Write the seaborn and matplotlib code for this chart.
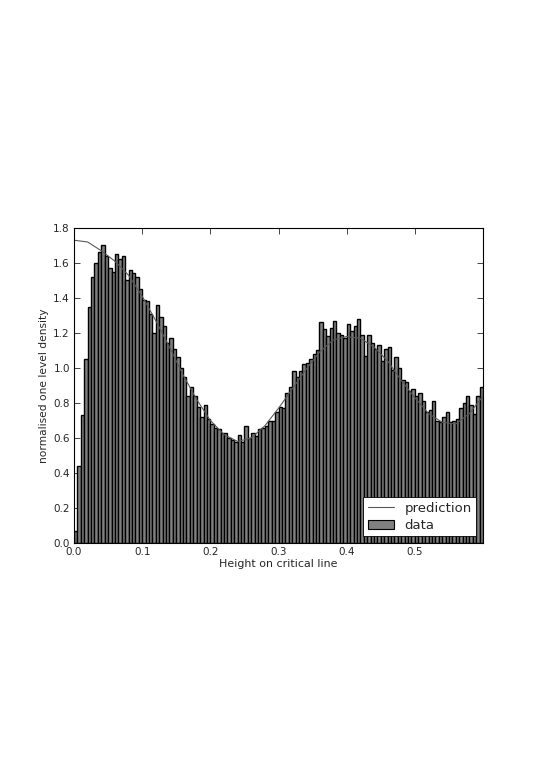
import numpy as np
import pandas as pd
import matplotlib
matplotlib.use("Agg")
import matplotlib.pyplot as plt
import seaborn as sns

# histogram of normalised zero spacings, bin width 0.005 from 0 to 0.6
bin_width = 0.005
data_heights = [
    0.07, 0.44, 0.73, 1.05, 1.35, 1.52, 1.60, 1.66, 1.70, 1.64,
    1.57, 1.55, 1.65, 1.62, 1.64, 1.50, 1.56, 1.54, 1.52, 1.45,
    1.39, 1.38, 1.31, 1.20, 1.36, 1.29, 1.24, 1.14, 1.17, 1.11,
    1.06, 1.00, 0.95, 0.84, 0.89, 0.84, 0.78, 0.72, 0.79, 0.71,
    0.68, 0.66, 0.65, 0.63, 0.63, 0.60, 0.59, 0.58, 0.62, 0.58,
    0.67, 0.60, 0.63, 0.61, 0.65, 0.66, 0.67, 0.70, 0.70, 0.75,
    0.78, 0.77, 0.86, 0.89, 0.98, 0.95, 0.98, 1.02, 1.03, 1.05,
    1.08, 1.10, 1.26, 1.22, 1.18, 1.23, 1.27, 1.20, 1.19, 1.17,
    1.25, 1.21, 1.24, 1.28, 1.19, 1.07, 1.19, 1.14, 1.11, 1.13,
    1.04, 1.11, 1.12, 0.99, 1.06, 1.00, 0.93, 0.92, 0.87, 0.88,
    0.84, 0.86, 0.81, 0.75, 0.76, 0.81, 0.70, 0.69, 0.72, 0.75,
    0.69, 0.70, 0.71, 0.77, 0.80, 0.84, 0.79, 0.74, 0.84, 0.89,
]

# theoretical curve
pred_x = [0.00, 0.02, 0.04, 0.06, 0.08, 0.10, 0.12, 0.14, 0.16, 0.18,
          0.20, 0.22, 0.24, 0.26, 0.28, 0.30, 0.32, 0.34, 0.36, 0.38,
          0.40, 0.42, 0.44, 0.46, 0.48, 0.50, 0.52, 0.54, 0.56, 0.58, 0.60]
pred_y = [1.73, 1.72, 1.67, 1.61, 1.53, 1.41, 1.27, 1.12, 0.96, 0.82,
          0.70, 0.62, 0.58, 0.60, 0.67, 0.77, 0.88, 0.99, 1.09, 1.16,
          1.18, 1.17, 1.12, 1.04, 0.93, 0.83, 0.74, 0.69, 0.68, 0.74, 0.84]

x_ticks = [0.0, 0.1, 0.2, 0.3, 0.4, 0.5]
y_ticks = [0.0, 0.2, 0.4, 0.6, 0.8, 1.0, 1.2, 1.4, 1.6, 1.8]

sns.set_style("ticks")
plt.rcParams['font.family'] = ['DejaVu Sans']
plt.rcParams['xtick.direction'] = 'in'
plt.rcParams['ytick.direction'] = 'in'

n_bins = len(data_heights)
edges = [round(i * bin_width, 4) for i in range(n_bins + 1)]
df = pd.DataFrame({"height": [e + bin_width / 2 for e in edges[:-1]],
                   "density": data_heights})

fig = plt.figure(figsize=(5.45, 7.71), dpi=100)
ax = fig.add_axes([0.1358, 0.2957, 0.7504, 0.4086])

sns.histplot(data=df, x="height", weights="density", bins=edges,
             color="0.5", edgecolor="black", linewidth=1.0, alpha=1,
             label="data", ax=ax)
sns.lineplot(x=pred_x, y=pred_y, color="0.35", linewidth=0.8,
             label="prediction", ax=ax)

ax.set_xlim(0, 0.5999)
ax.set_ylim(0, 1.8)
ax.set_xticks(x_ticks)
ax.set_yticks(y_ticks)
ax.set_xticklabels([f"{t:.1f}" for t in x_ticks], fontsize=7.5)
ax.set_yticklabels([f"{t:.1f}" for t in y_ticks], fontsize=7.5)
ax.tick_params(top=True, right=True, length=4, width=0.6, pad=3)
for s in ax.spines.values():
    s.set_linewidth(0.8)
    s.set_color("black")
    s.set_visible(True)

ax.set_xlabel("Height on critical line", fontsize=7.9, labelpad=1)
ax.set_ylabel("normalised one level density", fontsize=7.7, labelpad=3)

handles, labels = ax.get_legend_handles_labels()
order = [labels.index("prediction"), labels.index("data")]
leg = ax.legend([handles[i] for i in order], [labels[i] for i in order],
                loc="lower right", fontsize=9.5, fancybox=False, framealpha=1,
                edgecolor="black", borderaxespad=0.5, handlelength=2.0,
                borderpad=0.35, labelspacing=0.3)
leg.get_frame().set_linewidth(0.6)
# legend patch stays mid grey like the reference
leg.legend_handles[1].set_linewidth(0.8)

fig.savefig("out.png", dpi=100)
